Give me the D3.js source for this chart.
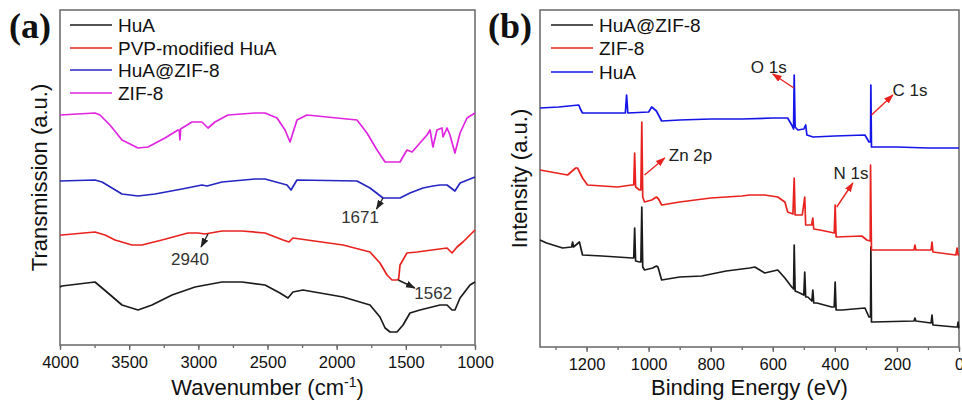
<!DOCTYPE html>
<html><head><meta charset="utf-8">
<script src="https://cdn.jsdelivr.net/npm/d3@7"></script>
<style>body{margin:0;background:#fff}svg{display:block}</style>
</head><body><svg id="c" width="962" height="403" style="font-family:'Liberation Sans',Arial,sans-serif"></svg>
<script>
// ---------- DATA (panel a: FTIR, transmission a.u.) ----------
const ftirSeriesNames = ["HuA", "PVP-modified HuA", "HuA@ZIF-8", "ZIF-8"];
const ftirXTicks = [4000, 3500, 3000, 2500, 2000, 1500, 1000];
const ftirHuA = [[4000,58],[3986,59],[3747,63],[3653,52],[3552,40],[3436,35],[3335,40],[3190,50],[3024,58],[2829,63],[2684,63],[2518,60],[2410,52],[2352,47],[2316,53],[2244,55],[1954,48],[1759,40],[1687,28],[1650,17],[1614,13],[1564,13],[1520,20],[1470,32],[1398,35],[1253,40],[1202,40],[1166,35],[1145,35],[1108,47],[1036,60],[1000,63]];
const ftirPVP = [[4000,110],[3986,110],[3747,113],[3675,110],[3602,105],[3480,100],[3407,100],[3263,105],[3075,112],[3002,112],[2952,111],[2829,114],[2684,114],[2518,112],[2387,105],[2345,103],[2316,107],[1954,100],[1759,93],[1687,82],[1636,70],[1600,65],[1564,65],[1552,66],[1542,80],[1492,92],[1419,93],[1202,97],[1166,92],[1130,98],[1087,103],[1000,115]];
const ftirHuAZIF = [[4000,164],[3747,165],[3696,163],[3624,157],[3552,151],[3436,149],[3313,151],[3118,156],[2974,160],[2937,159],[2829,163],[2590,166],[2518,166],[2359,160],[2330,155],[2287,165],[1853,164],[1759,157],[1665,147],[1542,147],[1470,152],[1376,157],[1304,159],[1253,160],[1202,160],[1145,154],[1108,162],[1000,168]];
const ftirZIF = [[4000,230],[3747,232],[3711,230],[3639,220],[3552,205],[3436,197],[3364,198],[3241,207],[3147,215],[3138,215],[3133,205],[3128,216],[3046,223],[2974,223],[2930,217],[2880,223],[2786,230],[2590,232],[2518,232],[2431,227],[2373,215],[2337,203],[2287,225],[2215,230],[1853,225],[1781,212],[1708,195],[1650,183],[1542,183],[1492,195],[1455,193],[1398,202],[1347,210],[1325,215],[1304,198],[1275,215],[1239,217],[1231,208],[1202,217],[1181,210],[1145,192],[1108,212],[1058,227],[1000,232]];
const ftirPeakLabels = ["1671", "2940", "1562"];

// ---------- DATA (panel b: XPS survey, intensity a.u.) ----------
const xpsSeriesNames = ["HuA@ZIF-8", "ZIF-8", "HuA"];
const xpsXTicks = [1200, 1000, 800, 600, 400, 200, 0];
const xpsHuAZIF = [[1350,107],[1329,104],[1277,99],[1248,100],[1245,105],[1242,100],[1223,105],[1213,92],[1150,91],[1052,89],[1048,89],[1045,119],[1042,86],[1029,85],[1025,85],[1022,140],[1019,80],[1013,77],[987,79],[975,81],[970,80],[958,67],[900,70],[829,71],[750,76],[674,79],[658,80],[626,74],[584,77],[561,69],[539,60],[533,58],[531,102],[528,56],[513,54],[500,52],[497,75],[494,50],[487,50],[474,46],[471,57],[468,44],[458,44],[410,40],[402,40],[399,65],[396,37],[377,37],[303,39],[290,30],[285,30],[284,100],[282,25],[277,25],[145,26],[142,29],[139,26],[90,24],[87,32],[84,22],[13,20],[5,20],[3,25],[1,19],[0,19]];
const xpsZIF = [[1350,177],[1261,172],[1235,179],[1229,179],[1213,169],[1197,162],[1100,160],[1055,162],[1048,162],[1045,194],[1042,160],[1029,157],[1025,157],[1022,225],[1019,150],[1013,145],[990,147],[975,150],[968,148],[958,142],[900,145],[800,149],[700,151],[674,152],[626,152],[584,150],[561,145],[552,135],[535,133],[531,169],[528,132],[505,132],[497,150],[494,122],[475,122],[471,129],[468,118],[448,117],[402,114],[399,142],[396,110],[313,111],[297,107],[286,106],[285,182],[282,97],[145,97],[142,102],[139,97],[90,97],[87,105],[84,95],[10,92],[6,99],[3,92],[0,92]];
const xpsHuA = [[1350,239],[1290,240],[1225,242],[1220,238],[1213,234],[1150,234],[1075,234],[1071,252],[1067,234],[1000,235],[990,240],[975,236],[958,226],[900,227],[800,228],[700,228],[600,229],[552,229],[539,222],[533,218],[531,272],[528,220],[519,217],[500,218],[494,222],[490,212],[470,210],[400,211],[303,212],[290,205],[285,205],[284,262],[282,200],[200,200],[100,199],[0,199]];
const xpsPeakLabels = ["O 1s", "C 1s", "Zn 2p", "N 1s"];

// ---------- DRAWING ----------
const svg = d3.select("#c");
const defs = svg.append("defs");
function marker(id, color){
  defs.append("marker").attr("id", id).attr("viewBox","0 0 10 10").attr("refX",9).attr("refY",5)
    .attr("markerWidth",7).attr("markerHeight",7).attr("orient","auto-start-reverse")
    .append("path").attr("d","M0,1.5 L10,5 L0,8.5 z").attr("fill", color);
}
marker("arrK", "#222");
marker("arrR", "#e8231f");

const lineCol = {black:"#1b1b1b", red:"#e8231f", blue:"#2323c8", magenta:"#e024e0"};

function panel(opt){
  const g = svg.append("g");
  const x = d3.scaleLinear().domain(opt.xDomain).range([opt.left, opt.right]);
  const y = d3.scaleLinear().domain(opt.yDomain).range([opt.bottom, opt.top]);
  const axMinor = d3.axisBottom(x).tickValues(opt.minor).tickSize(3).tickFormat("");
  g.append("g").attr("transform",`translate(0,${opt.bottom})`).call(axMinor)
    .call(s=>s.select(".domain").remove()).selectAll("line").attr("stroke","#666").attr("stroke-width",1.3);
  const ax = d3.axisBottom(x).tickValues(opt.ticks).tickSize(5).tickPadding(6).tickFormat(d3.format("d"));
  const axg = g.append("g").attr("transform",`translate(0,${opt.bottom})`).call(ax);
  axg.select(".domain").remove();
  axg.selectAll("line").attr("stroke","#666").attr("stroke-width",1.3);
  axg.selectAll("text").attr("font-size",16.5).attr("fill","#111")
    .style("font-family","'Liberation Sans',Arial,sans-serif");
  g.append("rect").attr("x",opt.left).attr("y",opt.top).attr("width",opt.right-opt.left).attr("height",opt.bottom-opt.top)
    .attr("fill","none").attr("stroke","#707070").attr("stroke-width",1.6);
  const line = d3.line().x(d=>x(d[0])).y(d=>y(d[1]));
  opt.series.forEach(s=>{
    g.append("path").datum(s.data).attr("d",line).attr("fill","none").attr("stroke",s.color)
      .attr("stroke-width",1.7).attr("stroke-linejoin","round");
  });
  opt.series.slice().sort((a,b)=>a.order-b.order).forEach((s,i)=>{
    const ly = opt.legendY[i];
    g.append("line").attr("x1",opt.legendX).attr("x2",opt.legendX+42).attr("y1",ly).attr("y2",ly)
      .attr("stroke",s.color).attr("stroke-width",1.7);
    g.append("text").attr("x",opt.legendX+48).attr("y",ly+6.5).attr("font-size",19).attr("fill","#111").text(s.name);
  });
  g.append("text").attr("x",(opt.left+opt.right)/2).attr("y",395).attr("text-anchor","middle")
    .attr("font-size",22).attr("fill","#111").call(opt.xTitle);
  g.append("text").attr("transform",`translate(${opt.yTitleX},${(opt.top+opt.bottom)/2}) rotate(-90)`)
    .attr("text-anchor","middle").attr("font-size",22).attr("fill","#111").text(opt.yTitle);
  g.append("text").attr("x",opt.tagX).attr("y",38).attr("font-size",36).attr("font-weight","bold")
    .style("font-family","'Liberation Serif','Times New Roman',serif").attr("fill","#111").text(opt.tag);
  return {g,x,y};
}

// Panel (a)
const A = panel({
  left:60, right:475, top:10, bottom:345,
  xDomain:[4000,1000], yDomain:[0,335],
  ticks: ftirXTicks, minor: d3.range(4000, 999, -250),
  series:[
    {name:ftirSeriesNames[0], data:ftirHuA, color:lineCol.black, order:0},
    {name:ftirSeriesNames[1], data:ftirPVP, color:lineCol.red, order:1},
    {name:ftirSeriesNames[2], data:ftirHuAZIF, color:"#2626c4", order:2},
    {name:ftirSeriesNames[3], data:ftirZIF, color:lineCol.magenta, order:3}
  ],
  legendX:70, legendY:[25,48,70,93],
  xTitle: t=>{ t.append("tspan").text("Wavenumber (cm"); t.append("tspan").attr("dy",-8).attr("font-size",14).text("-1"); t.append("tspan").attr("dy",8).text(")"); },
  yTitle:"Transmission (a.u.)", yTitleX:47, tag:"(a)", tagX:9
});
// Panel (b)
const B = panel({
  left:540, right:959, top:10, bottom:347,
  xDomain:[1350,0], yDomain:[0,337],
  ticks: xpsXTicks, minor: d3.range(1300, -1, -100),
  series:[
    {name:xpsSeriesNames[0], data:xpsHuAZIF, color:lineCol.black, order:0},
    {name:xpsSeriesNames[1], data:xpsZIF, color:lineCol.red, order:1},
    {name:xpsSeriesNames[2], data:xpsHuA, color:"#1515e8", order:2}
  ],
  legendX:551, legendY:[25,48,72],
  xTitle: t=>t.text("Binding Energy (eV)"),
  yTitle:"Intensity (a.u.)", yTitleX:527, tag:"(b)", tagX:488
});

function arrowA(txt, x1,y1,x2,y2, tx,ty){
  A.g.append("line").attr("x1",A.x(x1)).attr("y1",A.y(y1)).attr("x2",A.x(x2)).attr("y2",A.y(y2))
    .attr("stroke","#222").attr("stroke-width",1.4).attr("marker-end","url(#arrK)");
  A.g.append("text").attr("x",A.x(tx)).attr("y",A.y(ty)).attr("text-anchor","middle").attr("font-size",17).attr("fill","#333").text(txt);
}
arrowA(ftirPeakLabels[0], 1665,147, 1712,136, 1831,122);
arrowA(ftirPeakLabels[1], 2930,111, 2980,98, 3060,80);
arrowA(ftirPeakLabels[2], 1555,65, 1435,57, 1302,46);

function arrowB(txt, x1,y1,x2,y2, tx,ty){
  B.g.append("line").attr("x1",B.x(x1)).attr("y1",B.y(y1)).attr("x2",B.x(x2)).attr("y2",B.y(y2))
    .attr("stroke","#e8231f").attr("stroke-width",1.4).attr("marker-end","url(#arrR)");
  B.g.append("text").attr("x",B.x(tx)).attr("y",B.y(ty)).attr("text-anchor","middle").attr("font-size",17).attr("fill","#222").text(txt);
}
arrowB(xpsPeakLabels[0], 532,259, 600,273, 613,274);
arrowB(xpsPeakLabels[1], 282,232, 213,252, 158,251);
arrowB(xpsPeakLabels[2], 1013,172, 948,189, 865,186);
arrowB(xpsPeakLabels[3], 394,140, 342,164, 348,168);
</script></body></html>
